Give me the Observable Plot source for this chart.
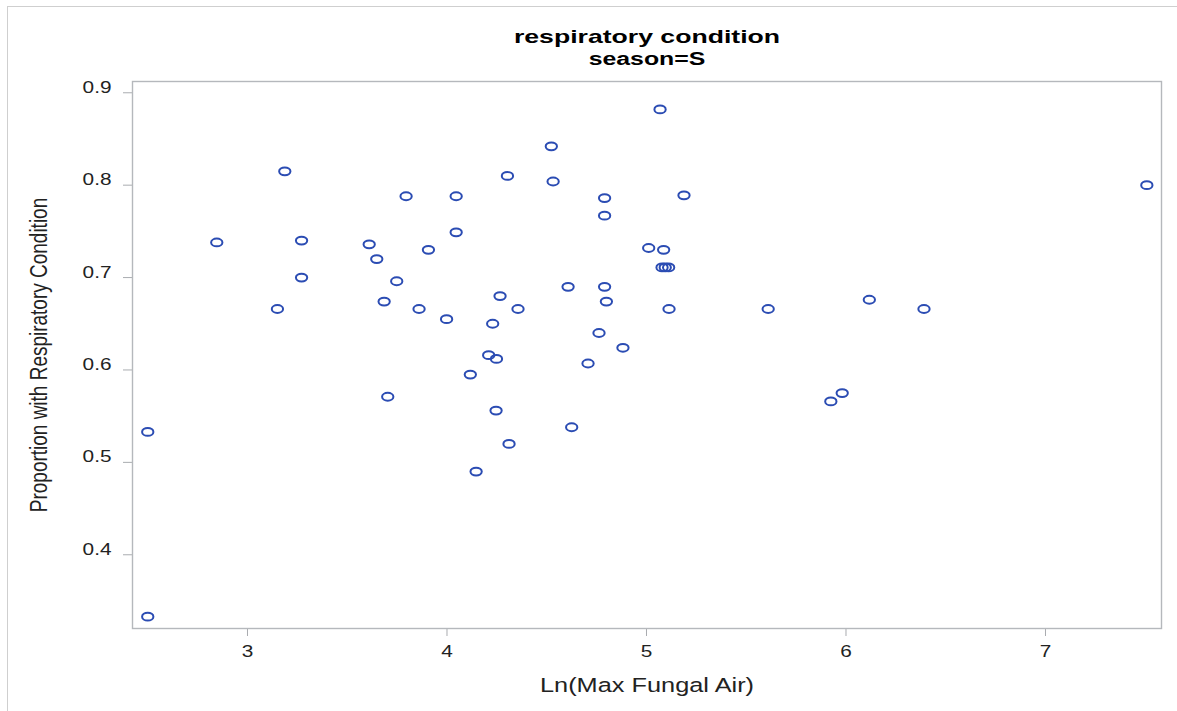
<!DOCTYPE html>
<html>
<head>
<meta charset="utf-8">
<script src="https://cdn.jsdelivr.net/npm/d3@7"></script>
<script src="https://cdn.jsdelivr.net/npm/@observablehq/plot@0.6"></script>
<style>
  html, body { margin: 0; padding: 0; background: #fff; }
  #page { position: relative; width: 1177px; height: 711px; overflow: hidden; font-family: "Liberation Sans", Arial, sans-serif; }
  #border { position: absolute; left: 7px; top: 6px; width: 1400px; height: 900px; border-left: 1px solid #cfcfcf; border-top: 1px solid #cfcfcf; z-index: 2; pointer-events: none; }
  #titles { position: relative; height: 70px; }
  .title { position: absolute; left: 646.5px; white-space: nowrap; font-weight: bold; color: #000; line-height: 1; transform-origin: center; }
  #t1 { top: 27px; font-size: 19px; transform: translateX(-50%) scaleX(1.4); }
  #t2 { top: 50px; font-size: 18px; transform: translateX(-50%) scaleX(1.38); }
  #chart { position: relative; }
</style>
</head>
<body>
<div id="page">
  <div id="border"></div>
  <div id="titles">
    <div class="title" id="t1">respiratory condition</div>
    <div class="title" id="t2">season=S</div>
  </div>
  <div id="chart"></div>
</div>
<script>
// Data
const lnMaxFungalAir = [
  2.50, 2.50, 2.846, 3.187, 3.271, 3.271, 3.150, 3.610, 3.648, 3.748,
  3.685, 3.703, 3.795, 3.907, 3.860, 3.998, 4.046, 4.046, 4.117, 4.146,
  4.303, 4.266, 4.229, 4.209, 4.248, 4.246, 4.311, 4.356, 4.523, 4.532,
  4.607, 4.625, 4.707, 4.762, 4.790, 4.790, 4.790, 4.799, 4.882, 5.068,
  5.011, 5.086, 5.078, 5.094, 5.111, 5.113, 5.188, 5.610, 5.924, 5.981,
  6.117, 6.391, 7.508
];
const proportion = [
  0.533, 0.333, 0.738, 0.815, 0.740, 0.700, 0.666, 0.736, 0.720, 0.696,
  0.674, 0.571, 0.788, 0.730, 0.666, 0.655, 0.788, 0.749, 0.595, 0.490,
  0.810, 0.680, 0.650, 0.616, 0.612, 0.556, 0.520, 0.666, 0.842, 0.804,
  0.690, 0.538, 0.607, 0.640, 0.786, 0.767, 0.690, 0.674, 0.624, 0.882,
  0.732, 0.730, 0.711, 0.711, 0.711, 0.666, 0.789, 0.666, 0.566, 0.575,
  0.676, 0.666, 0.800
];
const xTicks = [3, 4, 5, 6, 7];
const yTicks = [0.4, 0.5, 0.6, 0.7, 0.8, 0.9];
const xLabel = "Ln(Max Fungal Air)";
const yLabel = "Proportion with Respiratory Condition";

const points = lnMaxFungalAir.map((x, i) => ({x, y: proportion[i]}));

// ellipse-shaped marker (the reference markers are wider than tall)
const ellipse = {
  draw(ctx, size) {
    const r = Math.sqrt(size / Math.PI);
    const rx = r * 1.45, ry = r, k = 0.5523;
    ctx.moveTo(rx, 0);
    ctx.bezierCurveTo(rx, k * ry, k * rx, ry, 0, ry);
    ctx.bezierCurveTo(-k * rx, ry, -rx, k * ry, -rx, 0);
    ctx.bezierCurveTo(-rx, -k * ry, -k * rx, -ry, 0, -ry);
    ctx.bezierCurveTo(k * rx, -ry, rx, -k * ry, rx, 0);
    ctx.closePath();
  }
};

const chart = Plot.plot({
  width: 1177,
  height: 641,
  marginTop: 11,
  marginBottom: 83,
  marginLeft: 132,
  marginRight: 16,
  style: {fontFamily: "'Liberation Sans', Arial, sans-serif", background: "none", overflow: "visible"},
  x: {domain: [2.4236, 7.5815]},
  y: {domain: [0.3202, 0.9122]},
  marks: [
    Plot.axisX(xTicks, {
      tickSize: 8, tickPadding: 20, stroke: "#a9acb0", fill: "#222", fontSize: 16,
      tickFormat: d3.format("d"),
      label: xLabel, labelAnchor: "center", labelArrow: "none", labelOffset: 63
    }),
    Plot.axisY(yTicks, {
      tickSize: 9, tickPadding: 12, stroke: "#a9acb0", fill: "#222", fontSize: 16,
      tickFormat: d3.format(".1f"),
      label: yLabel, labelAnchor: "center", labelArrow: "none", labelOffset: 86
    }),
    Plot.frame({stroke: "#b5b8bc", strokeWidth: 1.4}),
    Plot.dot(points, {x: "x", y: "y", r: 3.9, symbol: ellipse, stroke: "#2b4cb3", strokeWidth: 2, fill: "none"})
  ]
});

// Apply the horizontal stretch seen in the reference's lettering
const SX = 1.3;
chart.querySelectorAll("text").forEach(t => {
  const x = +t.getAttribute("x") || 0, y = +t.getAttribute("y") || 0;
  t.removeAttribute("x"); t.removeAttribute("y");
  const tr = t.getAttribute("transform") || "";
  const rotated = /rotate\(\s*-?90/.test(tr);
  t.setAttribute("transform", `${tr} translate(${x},${y}) ${rotated ? `scale(1,${SX})` : `scale(${SX},1)`}`);
});
// axis labels are larger
chart.querySelectorAll("g[aria-label='x-axis label'] text").forEach(t => {
  t.setAttribute("font-size", 19.5);
  t.style.fontSize = "19.5px";
});
chart.querySelectorAll("g[aria-label='y-axis label'] text").forEach(t => {
  t.setAttribute("font-size", 19);
  t.style.fontSize = "19px";
});

document.getElementById("chart").appendChild(chart);
</script>
</body>
</html>
